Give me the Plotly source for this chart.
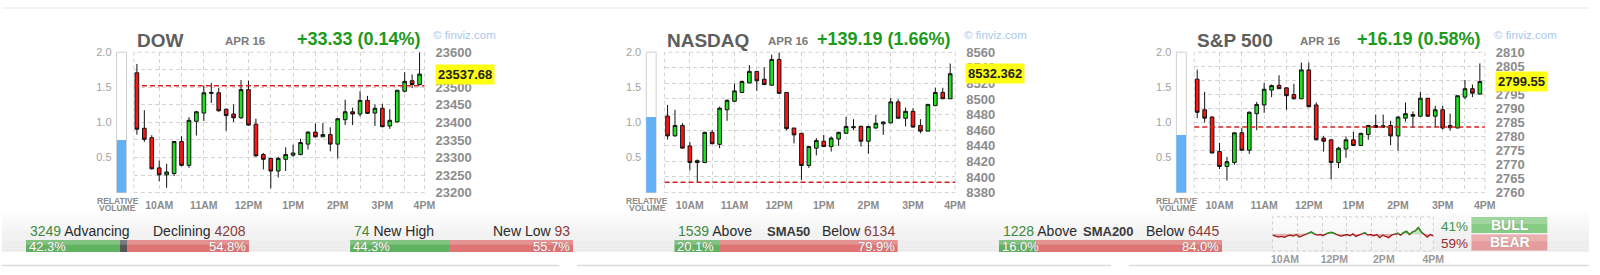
import plotly.graph_objects as go

W, H = 1600, 275
FONT = "Arial, Liberation Sans, sans-serif"

# ---------------- data ----------------
TIMES = ["09:30", "09:40", "09:50", "10:00", "10:10", "10:20", "10:30", "10:40", "10:50",
         "11:00", "11:10", "11:20", "11:30", "11:40", "11:50", "12:00", "12:10", "12:20",
         "12:30", "12:40", "12:50", "13:00", "13:10", "13:20", "13:30", "13:40", "13:50",
         "14:00", "14:10", "14:20", "14:30", "14:40", "14:50", "15:00", "15:10", "15:20",
         "15:30", "15:40", "15:50"]
HOUR_LABELS = ["10AM", "11AM", "12PM", "1PM", "2PM", "3PM", "4PM"]

DOW_OPEN = [23541.3, 23383.3, 23356.2, 23270.4, 23250.5, 23254.2, 23345.4, 23277.6, 23403.1, 23426.6,
            23482.6, 23484.4, 23437.5, 23423.9, 23413.1, 23493.4, 23395.0, 23308.3, 23297.5, 23261.4,
            23294.8, 23306.5, 23308.3, 23338.1, 23372.4, 23358.9, 23365.2, 23338.1, 23407.7, 23430.2,
            23423.9, 23462.7, 23426.6, 23440.2, 23389.6, 23401.3, 23488.9, 23518.7, 23507.9]
DOW_HIGH = [23566.6, 23434.7, 23363.4, 23291.2, 23282.1, 23347.2, 23360.7, 23414.9, 23433.0, 23505.2,
            23512.4, 23498.0, 23439.3, 23451.0, 23520.5, 23518.7, 23410.4, 23312.8, 23299.3, 23302.0,
            23329.1, 23336.3, 23353.5, 23374.3, 23396.8, 23398.6, 23386.0, 23412.2, 23464.6, 23442.0,
            23488.9, 23475.4, 23451.0, 23452.8, 23437.5, 23491.6, 23543.1, 23536.8, 23599.0]
DOW_LOW = [23365.2, 23344.4, 23265.9, 23232.5, 23213.5, 23247.0, 23274.9, 23270.4, 23362.5, 23404.0,
           23455.5, 23431.0, 23376.0, 23401.3, 23410.4, 23390.5, 23302.0, 23265.9, 23211.7, 23243.3,
           23261.4, 23302.0, 23306.5, 23322.8, 23357.0, 23358.9, 23317.4, 23297.5, 23392.3, 23392.3,
           23416.7, 23423.9, 23389.6, 23386.0, 23381.5, 23399.5, 23485.3, 23498.0, 23505.2]
DOW_CLOSE = [23380.6, 23351.7, 23267.7, 23250.5, 23258.7, 23345.4, 23277.6, 23405.9, 23430.2, 23484.4,
             23485.3, 23432.9, 23419.4, 23413.1, 23493.4, 23392.3, 23304.7, 23294.8, 23261.4, 23297.5,
             23308.3, 23312.8, 23342.6, 23372.4, 23358.9, 23365.2, 23338.1, 23410.4, 23430.2, 23423.9,
             23462.7, 23425.7, 23440.2, 23387.8, 23405.9, 23491.6, 23516.9, 23507.9, 23537.68]

NDX_OPEN = [8478.1, 8452.7, 8466.1, 8439.8, 8418.5, 8418.5, 8457.2, 8441.9, 8486.2, 8497.1,
            8508.4, 8520.5, 8535.4, 8525.3, 8517.7, 8550.7, 8508.4, 8462.8, 8456.0, 8414.8,
            8437.0, 8445.9, 8439.0, 8448.7, 8456.0, 8463.2, 8464.8, 8445.9, 8462.8, 8468.1,
            8469.3, 8496.3, 8475.3, 8484.2, 8466.1, 8458.8, 8491.5, 8508.4, 8500.3]
NDX_HIGH = [8492.3, 8486.2, 8468.9, 8445.1, 8422.5, 8458.0, 8460.0, 8490.2, 8499.5, 8519.7,
            8523.7, 8543.5, 8535.4, 8540.6, 8556.8, 8559.6, 8508.4, 8462.8, 8456.0, 8439.8,
            8449.9, 8454.0, 8451.9, 8458.0, 8476.9, 8474.1, 8466.1, 8465.6, 8479.4, 8471.3,
            8501.1, 8499.5, 8489.0, 8488.2, 8474.1, 8493.5, 8514.4, 8514.4, 8545.5]
NDX_LOW = [8447.9, 8451.9, 8436.6, 8408.4, 8393.5, 8417.7, 8441.9, 8437.0, 8472.1, 8496.3,
           8507.6, 8520.5, 8510.4, 8517.7, 8516.9, 8506.4, 8460.0, 8443.1, 8396.3, 8411.6,
           8427.8, 8439.0, 8432.6, 8439.8, 8455.2, 8460.0, 8439.0, 8429.8, 8462.0, 8454.0,
           8469.3, 8475.3, 8464.8, 8463.2, 8456.0, 8458.8, 8490.7, 8500.3, 8500.3]
NDX_CLOSE = [8452.7, 8466.1, 8437.0, 8418.5, 8420.9, 8457.2, 8442.7, 8488.2, 8498.3, 8510.4,
             8522.5, 8535.4, 8523.3, 8518.5, 8550.7, 8507.2, 8462.0, 8454.0, 8414.8, 8439.0,
             8446.7, 8439.0, 8449.9, 8457.2, 8464.8, 8464.4, 8445.9, 8464.8, 8468.9, 8470.5,
             8496.3, 8475.3, 8484.2, 8464.0, 8458.8, 8493.1, 8508.4, 8500.3, 8532.362]

SPX_OPEN = [2800.4, 2789.5, 2786.9, 2774.6, 2769.3, 2770.7, 2781.3, 2775.1, 2788.1, 2791.2,
            2796.5, 2798.2, 2797.3, 2794.9, 2793.4, 2803.7, 2791.2, 2779.4, 2778.8, 2770.7,
            2775.5, 2778.8, 2776.8, 2780.7, 2783.9, 2783.3, 2783.9, 2780.2, 2786.5, 2787.8,
            2787.2, 2793.6, 2787.2, 2789.5, 2783.9, 2783.0, 2794.0, 2797.0, 2795.1]
SPX_HIGH = [2803.8, 2795.9, 2787.2, 2777.7, 2772.7, 2781.3, 2783.0, 2788.9, 2792.3, 2799.0,
            2798.5, 2801.8, 2797.6, 2798.7, 2806.3, 2806.3, 2792.1, 2780.2, 2778.8, 2776.3,
            2780.0, 2781.6, 2781.3, 2784.1, 2787.8, 2787.8, 2785.6, 2787.2, 2792.1, 2788.9,
            2795.9, 2793.7, 2790.9, 2790.9, 2788.1, 2794.5, 2800.1, 2798.5, 2806.0]
SPX_LOW = [2786.5, 2785.0, 2774.0, 2768.4, 2764.3, 2769.9, 2774.9, 2773.8, 2782.2, 2788.4,
           2794.0, 2797.0, 2789.5, 2793.2, 2793.4, 2790.3, 2778.6, 2774.6, 2764.8, 2768.7,
           2772.4, 2776.6, 2776.6, 2778.8, 2783.1, 2783.0, 2776.9, 2774.9, 2785.3, 2783.0,
           2787.0, 2787.1, 2783.3, 2782.5, 2782.0, 2783.0, 2793.2, 2794.0, 2794.9]
SPX_CLOSE = [2788.6, 2786.5, 2774.1, 2769.3, 2771.0, 2781.3, 2775.1, 2788.6, 2791.4, 2796.8,
             2798.1, 2797.0, 2794.5, 2793.4, 2803.7, 2790.6, 2778.8, 2778.3, 2770.7, 2775.8,
             2778.8, 2776.8, 2781.1, 2783.9, 2783.2, 2783.8, 2780.2, 2786.9, 2788.1, 2787.2,
             2793.6, 2787.2, 2789.5, 2783.0, 2783.1, 2794.5, 2797.0, 2795.4, 2799.55]

INDEX_NAMES = ["DOW", "NASDAQ", "S&P 500"]
LAST_LABELS = ["23537.68", "8532.362", "2799.55"]
CHANGES = [33.33, 139.19, 16.19]
CHANGE_PCTS = [0.14, 1.66, 0.58]
REL_VOLUME = [0.75, 1.07, 0.815]
DATE_LABEL = "APR 16"

BREADTH_LEFT_LABELS = [("3249", "Advancing"), ("74", "New High"), ("1539", "Above"), ("1228", "Above")]
BREADTH_RIGHT_LABELS = [("Declining", "4208"), ("New Low", "93"), ("Below", "6134"), ("Below", "6445")]
BREADTH_MID_LABELS = ["", "", "SMA50", "SMA200"]
BREADTH_GREEN = [42.3, 44.3, 20.1, 16.0]
BREADTH_GRAY = [2.9, 0.0, 0.0, 0.0]
BREADTH_RED = [54.8, 55.7, 79.9, 84.0]

SENTIMENT = [-4, -8, -10, -8, -11, -6, -4, -7, -2, -10, -6, -2, 2, 6, 0, -4, -2, -5, 0, 4,
             5, 0, -4, -7, -4, -2, -6, 0, -8, -4, -2, 4, -4, -2, -6, -2, -12, -4, -8, -12,
             -4, -2, 2, -4, 4, 8, -2, 6, 10, 20, 6, -2, -10, -2, -6]
BULL_PCT, BEAR_PCT = 41, 59
SENT_LABELS = ["10AM", "12PM", "2PM", "4PM"]

# ---------------- helpers ----------------
def px(x):
    return x / W


def py(y):
    return 1 - y / H


def minutes(t):
    h, m = t.split(":")
    return (int(h) - 9) * 60 + int(m) - 30


XMIN = [minutes(t) for t in TIMES]

fig = go.Figure()
layout = dict(width=W, height=H, margin=dict(l=0, r=0, t=0, b=0),
              paper_bgcolor="white", plot_bgcolor="rgba(0,0,0,0)",
              showlegend=False, hovermode=False, barmode="stack", boxgap=0.3,
              font=dict(family=FONT))
shapes, annotations = [], []

GRID = "#d4d4d4"
GDASH = "4px,3px"
TICKGRAY = "#8c8c8c"

# bottom gradient band
band_top, band_bot = 217, 259
steps = 12
for i in range(steps):
    y0 = band_top + (band_bot - band_top) * i / steps
    y1 = band_top + (band_bot - band_top) * (i + 1) / steps
    g = int(254 - (254 - 235) * (i + 1) / steps)
    shapes.append(dict(type="rect", xref="paper", yref="paper", x0=0, x1=1, y0=py(y1), y1=py(y0),
                       fillcolor=f"rgb({g},{g},{g})", line=dict(width=0), layer="below"))
# top thin line and bottom separators
shapes.append(dict(type="rect", xref="paper", yref="paper", x0=0, x1=1, y0=py(2), y1=1,
                   fillcolor="#f3f3f3", line=dict(width=0), layer="below"))
for a, b in [(0, 562), (580, 1118), (1136, 1600)]:
    shapes.append(dict(type="line", xref="paper", yref="paper", x0=px(a), x1=px(b), y0=py(273.5), y1=py(273.5),
                       line=dict(color="#dcdcdc", width=1.5), layer="below"))

CHART_LEFTS = [133, 668, 1202]
CHART_W = 293
VOL_LEFTS = [115.5, 649.5, 1184]
PLOT_TOP, PLOT_BOT = 47.8, 196.3
Y_RANGES = [(23200, 23600, 50), (8380, 8560, 20), (2760, 2810, 5)]
DATA = [(DOW_OPEN, DOW_HIGH, DOW_LOW, DOW_CLOSE),
        (NDX_OPEN, NDX_HIGH, NDX_LOW, NDX_CLOSE),
        (SPX_OPEN, SPX_HIGH, SPX_LOW, SPX_CLOSE)]
DATE_X = [223, 770.5, 1307]
TITLE_X = [134, 668.5, 1203]

X_RANGE = [-4.0, 386.7]
MAJOR = [30, 90, 150, 210, 270, 330, 386.5]
MINOR = [60, 120, 180, 240, 300, 360]

for k in range(3):
    o, h, l, c = DATA[k]
    xa, ya = k + 1, k + 1
    xn = "x" if k == 0 else f"x{xa}"
    yn = "y" if k == 0 else f"y{ya}"
    left = CHART_LEFTS[k]
    right = left + CHART_W
    fig.add_trace(go.Candlestick(
        x=XMIN, open=o, high=h, low=l, close=c, xaxis=xn, yaxis=yn,
        increasing=dict(fillcolor="#1fe01f", line=dict(color="#111111", width=1)),
        decreasing=dict(fillcolor="#ff1414", line=dict(color="#111111", width=1)),
        whiskerwidth=0, hoverinfo="skip"))
    ymin, ymax, dt = Y_RANGES[k]
    nt = int(round((ymax - ymin) / dt))
    yvals = [ymin + j * dt for j in range(nt + 1)]
    # the tick label hidden behind the last-price box is left blank
    ytext = ["" if abs(v - c[-1]) < 0.3 * dt else str(v) for v in yvals]
    layout[f"xaxis{'' if k == 0 else xa}"] = dict(
        domain=[px(left), px(right)], anchor=yn, range=X_RANGE,
        tickmode="array", tickvals=MAJOR, ticktext=HOUR_LABELS,
        showgrid=True, gridcolor=GRID, griddash=GDASH, gridwidth=1,
        minor=dict(tickvals=MINOR, showgrid=True, gridcolor=GRID, griddash=GDASH, gridwidth=1),
        zeroline=False, showline=False, ticks="", rangeslider=dict(visible=False),
        tickfont=dict(size=10.5, color=TICKGRAY, weight="bold"), ticklabelstandoff=5, fixedrange=True)
    layout[f"yaxis{'' if k == 0 else ya}"] = dict(
        domain=[py(PLOT_BOT), py(PLOT_TOP)], anchor=xn, side="right", range=[ymin, ymax],
        tickmode="array", tickvals=yvals, ticktext=ytext,
        showgrid=True, gridcolor=GRID, griddash=GDASH, gridwidth=1,
        zeroline=False, showline=False, ticks="",
        tickfont=dict(size=13, color=TICKGRAY, weight="bold"), ticklabelstandoff=10, fixedrange=True)
    # dashed border
    shapes.append(dict(type="rect", xref=f"{xn} domain", yref=f"{yn} domain", x0=0, x1=1, y0=0, y1=1,
                       line=dict(color=GRID, width=1, dash=GDASH), layer="below"))
    # previous close line
    prev_close = c[-1] - CHANGES[k]
    shapes.append(dict(type="line", xref=f"{xn} domain", yref=yn, x0=0, x1=1, y0=prev_close, y1=prev_close,
                       line=dict(color="#d62020", width=1.5, dash="5px,3px"), layer="above"))
    # last price label
    annotations.append(dict(xref=f"{xn} domain", yref=yn, x=1, y=c[-1], xanchor="left", yanchor="middle",
                            xshift=10, text=LAST_LABELS[k], showarrow=False, bgcolor="#ffff10",
                            borderpad=2, font=dict(size=13, color="#222222", weight="bold")))
    # titles
    annotations.append(dict(xref="paper", yref="paper", x=px(TITLE_X[k]), y=py(35), xanchor="left",
                            yanchor="middle", text=INDEX_NAMES[k], showarrow=False,
                            font=dict(size=19, color="#5e5e5e", weight="bold")))
    annotations.append(dict(xref="paper", yref="paper", x=px(DATE_X[k]), y=py(35.5), xanchor="left",
                            yanchor="middle", text=DATE_LABEL, showarrow=False,
                            font=dict(size=11.5, color="#7a7a7a", weight="bold")))
    annotations.append(dict(xref="paper", yref="paper", x=px(right - 2), y=py(34), xanchor="right",
                            yanchor="middle", text=f"+{CHANGES[k]:.2f} ({CHANGE_PCTS[k]:.2f}%)",
                            showarrow=False, font=dict(size=18, color="#1c9a1c", weight="bold")))
    annotations.append(dict(xref="paper", yref="paper", x=px(right + 7), y=py(30), xanchor="left",
                            yanchor="middle", text="© finviz.com", showarrow=False,
                            font=dict(size=11.5, color="#a8c8ec")))

    # relative volume
    vx, vy = k + 4, k + 4
    fig.add_trace(go.Bar(x=[0], y=[REL_VOLUME[k]], width=[1], xaxis=f"x{vx}", yaxis=f"y{vy}",
                         marker=dict(color="#62b0f6", line=dict(width=0)), hoverinfo="skip"))
    vl = VOL_LEFTS[k]
    layout[f"xaxis{vx}"] = dict(domain=[px(vl), px(vl + 10)], anchor=f"y{vy}", range=[-0.5, 0.5],
                                visible=False, fixedrange=True)
    layout[f"yaxis{vy}"] = dict(domain=[py(PLOT_BOT), py(PLOT_TOP)], anchor=f"x{vx}", range=[0, 2],
                                tickmode="array", tickvals=[0.5, 1.0, 1.5, 2.0],
                                ticktext=["0.5", "1.0", "1.5", "2.0"], showgrid=False, zeroline=False,
                                showline=False, ticks="", ticklabelstandoff=4,
                                tickfont=dict(size=11, color="#a3a3a3"), fixedrange=True)
    shapes.append(dict(type="rect", xref=f"x{vx} domain", yref=f"y{vy} domain", x0=0, x1=1, y0=0, y1=1,
                       fillcolor="white", line=dict(color="#cfcfcf", width=1), layer="below"))
    cx = vl + 5 - 4
    annotations.append(dict(xref="paper", yref="paper", x=px(cx), y=py(205), xanchor="center",
                            yanchor="middle", text="RELATIVE", showarrow=False,
                            font=dict(size=8.5, color="#8a8a8a", weight="bold")))
    annotations.append(dict(xref="paper", yref="paper", x=px(cx), y=py(212.5), xanchor="center",
                            yanchor="middle", text="VOLUME", showarrow=False,
                            font=dict(size=8.5, color="#8a8a8a", weight="bold")))

# ---------------- breadth bars ----------------
BAR_LEFTS = [24, 351, 678, 1005]
BAR_W = 225
BAR_TOP, BAR_BOT = 246.5, 259.5
for i in range(4):
    ax = 7 + i
    xn, yn = f"x{ax}", f"y{ax}"
    for val, col in [(BREADTH_GREEN[i], "#5fb25f"), (BREADTH_GRAY[i], "#555555"), (BREADTH_RED[i], "#de7474")]:
        fig.add_trace(go.Bar(x=[val], y=[0], orientation="h", width=[1], xaxis=xn, yaxis=yn,
                             marker=dict(color=col, line=dict(width=0)), hoverinfo="skip"))
    bl = BAR_LEFTS[i]
    layout[f"xaxis{ax}"] = dict(domain=[px(bl), px(bl + BAR_W)], anchor=yn, range=[0, 100],
                                visible=False, fixedrange=True)
    layout[f"yaxis{ax}"] = dict(domain=[py(BAR_BOT), py(BAR_TOP)], anchor=xn, range=[-0.5, 0.5],
                                visible=False, fixedrange=True)
    # glossy top
    shapes.append(dict(type="rect", xref=f"{xn} domain", yref=f"{yn} domain", x0=0, x1=1, y0=0.62, y1=1,
                       fillcolor="rgba(255,255,255,0.22)", line=dict(width=0), layer="above"))
    annotations.append(dict(xref=f"{xn} domain", yref=f"{yn} domain", x=0, y=0.5, xanchor="left",
                            yanchor="middle", xshift=1, text=f"{BREADTH_GREEN[i]:.1f}%", showarrow=False,
                            font=dict(size=13, color="white", shadow="0px 0px 1px #777")))
    annotations.append(dict(xref=f"{xn} domain", yref=f"{yn} domain", x=1, y=0.5, xanchor="right",
                            yanchor="middle", xshift=-1, text=f"{BREADTH_RED[i]:.1f}%", showarrow=False,
                            font=dict(size=13, color="white", shadow="0px 0px 1px #777")))
    n1, w1 = BREADTH_LEFT_LABELS[i]
    w2, n2 = BREADTH_RIGHT_LABELS[i]
    annotations.append(dict(xref="paper", yref="paper", x=px(bl + 2), y=py(236.5), xanchor="left",
                            yanchor="middle", showarrow=False,
                            text=f"<span style='color:#3d8a3d'>{n1}</span> {w1}",
                            font=dict(size=14, color="#2a2a2a")))
    annotations.append(dict(xref="paper", yref="paper", x=px(bl + BAR_W - 1), y=py(236.5), xanchor="right",
                            yanchor="middle", showarrow=False,
                            text=f"{w2} <span style='color:#8a3a3a'>{n2}</span>",
                            font=dict(size=14, color="#2a2a2a")))
    if BREADTH_MID_LABELS[i]:
        mid = {2: 792.5, 3: 1116}[i]
        annotations.append(dict(xref="paper", yref="paper", x=px(mid), y=py(237), xanchor="center",
                                yanchor="middle", showarrow=False, text=BREADTH_MID_LABELS[i],
                                font=dict(size=13, color="#3a3a3a", weight="bold")))

# ---------------- sentiment mini chart ----------------
n = len(SENTIMENT)
sx = [i * 390.0 / (n - 1) for i in range(n)]
xs, ys = [], []
for i in range(n):
    if i > 0 and (SENTIMENT[i - 1] < 0) != (SENTIMENT[i] < 0) and SENTIMENT[i] != SENTIMENT[i - 1]:
        t = SENTIMENT[i - 1] / (SENTIMENT[i - 1] - SENTIMENT[i])
        xs.append(sx[i - 1] + t * (sx[i] - sx[i - 1]))
        ys.append(0)
    xs.append(sx[i])
    ys.append(SENTIMENT[i])
neg = [min(v, 0) for v in ys]
pos = [max(v, 0) for v in ys]
green_seg = [v if v >= 0 else None for v in ys]
SX, SY = "x11", "y11"
fig.add_trace(go.Scatter(x=xs, y=neg, mode="lines", fill="tozeroy", fillcolor="rgba(205,80,80,0.45)",
                         line=dict(width=0), xaxis=SX, yaxis=SY, hoverinfo="skip"))
fig.add_trace(go.Scatter(x=xs, y=pos, mode="lines", fill="tozeroy", fillcolor="rgba(80,180,80,0.3)",
                         line=dict(width=0), xaxis=SX, yaxis=SY, hoverinfo="skip"))
fig.add_trace(go.Scatter(x=xs, y=ys, mode="lines", line=dict(color="#a31818", width=1.3),
                         xaxis=SX, yaxis=SY, hoverinfo="skip"))
fig.add_trace(go.Scatter(x=xs, y=green_seg, mode="lines", line=dict(color="#1f9a1f", width=1.3),
                         connectgaps=False, xaxis=SX, yaxis=SY, hoverinfo="skip"))
layout["xaxis11"] = dict(domain=[px(1281), px(1443)], anchor=SY, range=[0, 390],
                         tickmode="array", tickvals=[30, 150, 270, 390], ticktext=SENT_LABELS,
                         showgrid=False, zeroline=False, showline=False, ticks="",
                         minor=dict(tickvals=[60, 120, 180, 240, 300, 360], showgrid=True,
                                    gridcolor="#cfcfcf", griddash="3px,3px", gridwidth=1),
                         tickfont=dict(size=10.5, color="#9a9a9a", weight="bold"), ticklabelstandoff=1,
                         fixedrange=True)
layout["yaxis11"] = dict(domain=[py(258), py(222)], anchor=SX, range=[-54, 54], visible=False,
                         fixedrange=True)
shapes.append(dict(type="rect", xref="x11 domain", yref="y11 domain", x0=0, x1=1, y0=0, y1=1,
                   fillcolor="rgba(255,255,255,0.35)", line=dict(color="#cfcfcf", width=1, dash="3px,3px"),
                   layer="below"))

annotations.append(dict(xref="paper", yref="paper", x=px(1449), y=py(232.5), xanchor="left", yanchor="middle",
                        text=f"{BULL_PCT}%", showarrow=False, font=dict(size=13.5, color="#3f943f")))
annotations.append(dict(xref="paper", yref="paper", x=px(1449), y=py(250), xanchor="left", yanchor="middle",
                        text=f"{BEAR_PCT}%", showarrow=False, font=dict(size=13.5, color="#9a2a2a")))
for (y0, y1, col, txt) in [(222, 239, "#86cc86", "BULL"), (240.5, 257.5, "#e69c9c", "BEAR")]:
    shapes.append(dict(type="rect", xref="paper", yref="paper", x0=px(1481.5), x1=px(1558), y0=py(y1), y1=py(y0),
                       fillcolor=col, line=dict(width=0), layer="above"))
    shapes.append(dict(type="rect", xref="paper", yref="paper", x0=px(1481.5), x1=px(1558),
                       y0=py(y0 + (y1 - y0) * 0.45), y1=py(y0),
                       fillcolor="rgba(255,255,255,0.2)", line=dict(width=0), layer="above"))
    annotations.append(dict(xref="paper", yref="paper", x=px(1520), y=py((y0 + y1) / 2), xanchor="center",
                            yanchor="middle", text=txt, showarrow=False,
                            font=dict(size=14, color="white", weight="bold", shadow="0px 0px 1px #888")))

layout["shapes"] = shapes
layout["annotations"] = annotations
fig.update_layout(**layout)
fig.write_html("out.html", config={"displayModeBar": False, "staticPlot": True})
